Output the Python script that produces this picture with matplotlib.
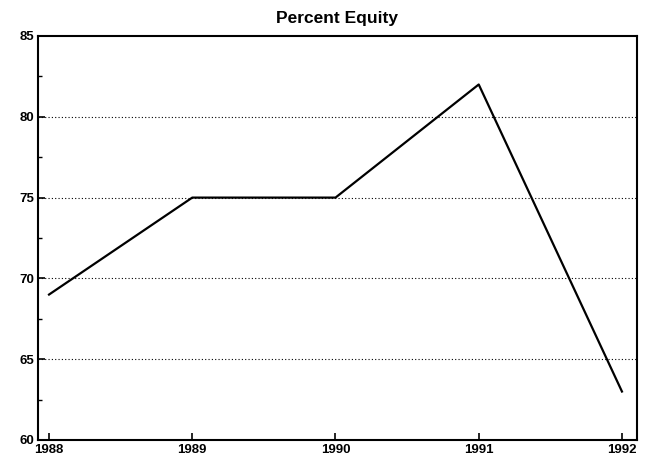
import matplotlib
matplotlib.use("Agg")
import matplotlib.pyplot as plt
from matplotlib.ticker import MultipleLocator

years = [1988, 1989, 1990, 1991, 1992]
equity = [69, 75, 75, 82, 63]
yticks = [60, 65, 70, 75, 80, 85]

plt.rcParams['font.family'] = ['Liberation Sans', 'DejaVu Sans']
fig = plt.figure(figsize=(6.49, 4.70), dpi=100)
ax = fig.add_axes([38/649, 1-440/470, (637-38)/649, (440-36)/470])
ax.plot(years, equity, color='black', lw=1.6)
ax.set_xlim(1987.923, 1992.105)
ax.set_ylim(60, 85)
ax.set_xticks(years)
ax.set_yticks(yticks)
ax.yaxis.set_minor_locator(MultipleLocator(2.5))
for v in yticks[1:-1]:
    ax.axhline(v, color='black', lw=0.8, ls=(0, (1, 2)), zorder=0)
ax.tick_params(axis='both', direction='in', length=5, width=1.2, labelsize=9.5, pad=3)
ax.tick_params(axis='y', which='minor', direction='in', length=3, width=1.0)
ax.tick_params(axis='x', which='minor', bottom=False)
for lab in ax.get_xticklabels() + ax.get_yticklabels():
    lab.set_fontweight('bold')
for s in ax.spines.values():
    s.set_linewidth(1.5)
ax.set_title('Percent Equity', fontsize=12.5, fontweight='bold', pad=9)
fig.savefig('out.png', dpi=100)
